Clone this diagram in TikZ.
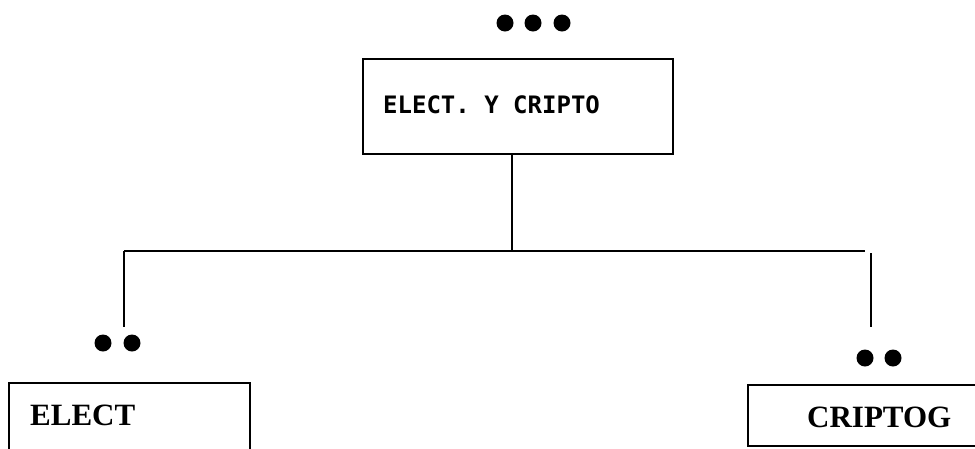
\documentclass[tikz,border=0pt]{standalone}
\usepackage{fontspec}
\newfontfamily\monof{DejaVu Sans Mono}
\newfontfamily\serifb{Liberation Serif}
\begin{document}
\begin{tikzpicture}[x=1pt,y=-1pt,
  boxst/.style={draw=black,rectangle,inner sep=0pt,line width=2pt},
  dotst/.style={circle,fill=black,minimum size=17pt,inner sep=0pt},
  linest/.style={draw=black,line width=2pt},
  monotext/.style={anchor=base west,inner sep=0pt,font=\monof\bfseries\fontsize{24}{24}\selectfont},
  bigtext/.style={anchor=base west,inner sep=0pt,font=\serifb\bfseries\fontsize{31}{31}\selectfont}]
\useasboundingbox (0,0) rectangle (975,448);
\clip (0,0) rectangle (975,448);
% top
\node[boxst,minimum width=310pt,minimum height=95pt] (top) at (518,106.5) {};
\node[monotext] (toptext) at (383,113) {ELECT. Y CRIPTO};
\node[dotst] (d1) at (505,23) {};
\node[dotst] (d2) at (533,23) {};
\node[dotst] (d3) at (562,23) {};
% left
\node[boxst,minimum width=241pt,minimum height=90pt] (left) at (129.5,428) {};
\node[bigtext] (lefttext) at (30,425) {ELECT};
\node[dotst] (l1) at (103,343) {};
\node[dotst] (l2) at (132,343) {};
% right
\node[boxst,minimum width=260pt,minimum height=61pt] (right) at (878,415.5) {};
\node[bigtext] (righttext) at (807,427) {CRIPTOG};
\node[dotst] (r1) at (865,358) {};
\node[dotst] (r2) at (893,358) {};
% connectors
\coordinate (j) at (512,251);
\coordinate (lj) at (124,251);
\coordinate (rj) at (865,251);
\coordinate (lend) at (124,327);
\coordinate (rtop) at (871,253);
\coordinate (rend) at (871,327);
\draw[linest] (top.south -| j) -- (j);
\draw[linest] (lj) -- (rj);
\draw[linest] (lj) -- (lend);
\draw[linest] (rtop) -- (rend);
\end{tikzpicture}
\end{document}
